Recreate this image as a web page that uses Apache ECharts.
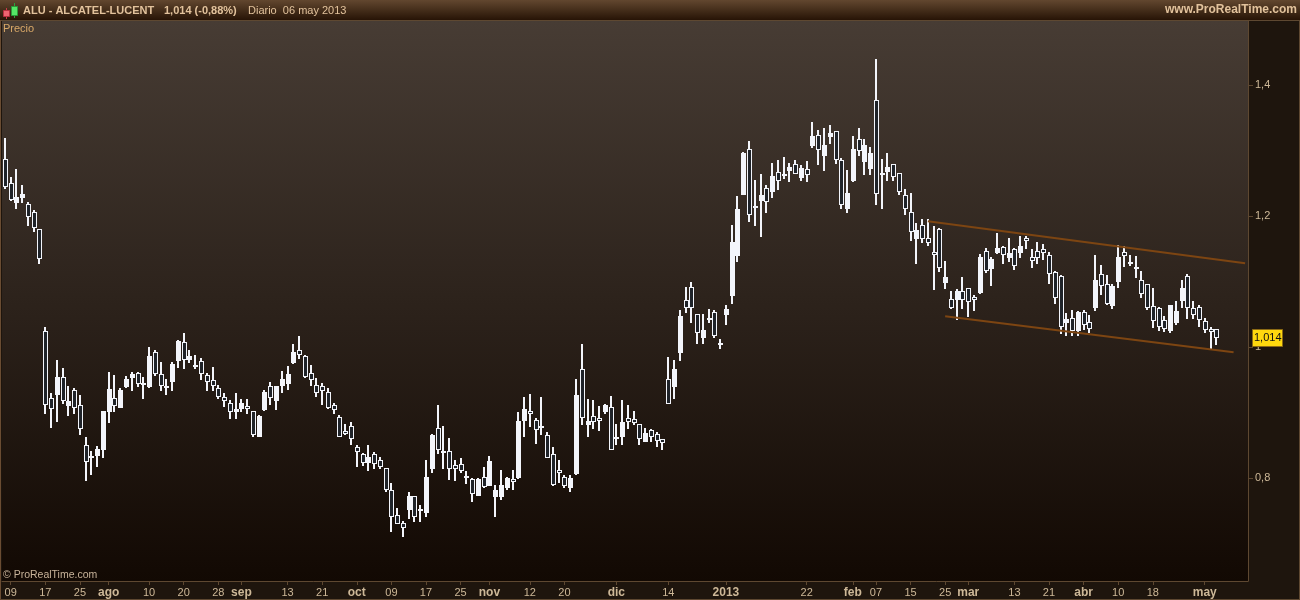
<!DOCTYPE html>
<html><head><meta charset="utf-8">
<style>html,body{margin:0;padding:0;background:#1e150d;overflow:hidden;width:1300px;height:600px}#c{width:1300px;height:600px}
</style>
<script src="https://cdn.jsdelivr.net/npm/echarts@6/dist/echarts.min.js"></script>
</head><body><div id="c"></div>
<script>
const categories = [
'07-06','07-09','07-10','07-11','07-12','07-13','07-16','07-17','07-18','07-19','07-20','07-23','07-24','07-25','07-26','07-27',
'07-30','07-31','08-01','08-02','08-03','08-06','08-07','08-08','08-09','08-10','08-13','08-14','08-15','08-16','08-17',
'08-20','08-21','08-22','08-23','08-24','08-27','08-28','08-29','08-30','08-31','09-03','09-04','09-05','09-06','09-07',
'09-10','09-11','09-12','09-13','09-14','09-17','09-18','09-19','09-20','09-21','09-24','09-25','09-26','09-27','09-28',
'10-01','10-02','10-03','10-04','10-05','10-08','10-09','10-10','10-11','10-12','10-15','10-16','10-17','10-18','10-19',
'10-22','10-23','10-24','10-25','10-26','10-29','10-30','10-31','11-01','11-02','11-05','11-06','11-07','11-08','11-09',
'11-12','11-13','11-14','11-15','11-16','11-19','11-20','11-21','11-22','11-23','11-26','11-27','11-28','11-29','11-30',
'12-03','12-04','12-05','12-06','12-07','12-10','12-11','12-12','12-13','12-14','12-17','12-18','12-19','12-20','12-21',
'12-26','12-27','12-28','12-31','01-02','01-03','01-04','01-07','01-08','01-09','01-10','01-11','01-14','01-15','01-16','01-17','01-18',
'01-21','01-22','01-23','01-24','01-25','01-28','01-29','01-30','01-31','02-01','02-04','02-05','02-06','02-07','02-08',
'02-11','02-12','02-13','02-14','02-15','02-18','02-19','02-20','02-21','02-22','02-25','02-26','02-27','02-28','03-01',
'03-04','03-05','03-06','03-07','03-08','03-11','03-12','03-13','03-14','03-15','03-18','03-19','03-20','03-21','03-22',
'03-25','03-26','03-27','03-28','04-02','04-03','04-04','04-05','04-08','04-09','04-10','04-11','04-12','04-15','04-16','04-17','04-18','04-19',
'04-22','04-23','04-24','04-25','04-26','04-29','04-30','05-02','05-03','05-06','05-07','05-08','05-09','05-10','05-13'];

const tickLabels = {'07-09':'09','07-17':'17','07-25':'25','08-01':'ago','08-10':'10','08-20':'20','08-28':'28','09-03':'sep','09-13':'13','09-21':'21','10-01':'oct','10-09':'09','10-17':'17','10-25':'25','11-01':'nov','11-12':'12','11-20':'20','12-03':'dic','12-14':'14','01-02':'2013','01-22':'22','02-01':'feb','02-07':'07','02-15':'15','02-25':'25','03-01':'mar','03-13':'13','03-21':'21','04-02':'abr','04-10':'10','04-18':'18','05-02':'may'};
const monthLabels = ['ago','sep','oct','nov','dic','2013','feb','mar','abr','may'];
const priceTicks = [0.8,1.0,1.2,1.4];

const opens = [1.287,1.250,1.220,1.228,1.219,1.206,1.180,1.024,.922,.926,
.954,.910,.934,.912,.851,.831,.834,.843,.900,.922,
.907,.939,.953,.960,.942,.939,.992,.958,.940,.947,
.979,1.007,.980,.972,.978,.957,.949,.938,.923,.914,
.901,.906,.910,.902,.862,.904,.941,.917,.941,.943,
.976,.996,.986,.961,.942,.940,.931,.911,.893,.872,
.880,.847,.837,.823,.836,.828,.815,.781,.743,.731,
.751,.772,.753,.746,.813,.876,.839,.841,.820,.821,
.801,.799,.773,.801,.788,.771,.771,.785,.798,.800,
.887,.902,.889,.880,.865,.836,.812,.802,.785,.806,
.966,.881,.894,.891,.901,.909,.860,.863,.891,.890,
.882,.855,.873,.867,.859,.951,.939,.991,1.071,1.091,
1.051,1.014,1.044,1.053,1.004,1.049,1.078,1.139,1.232,1.302,
1.213,1.223,1.242,1.237,1.267,1.264,1.268,1.280,1.258,1.271,
1.307,1.323,1.292,1.321,1.329,1.286,1.211,1.253,1.318,1.283,
1.272,1.377,1.263,1.267,1.279,1.265,1.232,1.206,1.165,1.186,
1.166,1.145,1.180,1.098,1.073,1.071,1.086,1.090,1.076,1.082,
1.146,1.119,1.143,1.153,1.136,1.149,1.143,1.166,1.137,1.146,
1.149,1.141,1.114,1.109,1.036,1.044,1.024,1.053,1.038,1.060,
1.111,1.096,1.063,1.099,1.145,1.129,1.119,1.102,1.096,1.062,
1.059,1.041,1.024,1.037,1.070,1.108,1.059,1.061,1.039,1.027,1.027];
const closes = [1.245,1.224,1.229,1.234,1.199,1.182,1.135,.911,.905,.954,
.917,.917,.907,.875,.824,.834,.844,.902,.936,.910,
.934,.951,.959,.944,.945,.986,.959,.940,.937,.974,
1.009,.980,.986,.969,.959,.946,.940,.924,.917,.900,
.906,.914,.905,.866,.895,.931,.922,.940,.951,.959,
.993,.988,.954,.950,.930,.933,.907,.904,.863,.867,
.860,.839,.823,.832,.821,.817,.781,.740,.730,.723,
.772,.740,.749,.802,.866,.842,.841,.813,.814,.810,
.803,.775,.798,.786,.826,.782,.789,.800,.794,.887,
.905,.897,.874,.876,.831,.790,.807,.788,.800,.927,
.892,.887,.886,.887,.911,.843,.863,.885,.886,.884,
.859,.869,.862,.856,.854,.913,.967,1.047,1.059,1.060,
1.021,1.026,1.041,1.017,1.006,1.058,1.160,1.211,1.296,1.202,
1.215,1.232,1.221,1.261,1.253,1.261,1.275,1.264,1.273,1.262,
1.322,1.301,1.308,1.326,1.286,1.217,1.235,1.302,1.299,1.308,
1.296,1.233,1.266,1.275,1.260,1.237,1.210,1.175,1.179,1.165,
1.159,1.141,1.120,1.107,1.059,1.085,1.071,1.069,1.071,1.137,
1.116,1.134,1.151,1.140,1.143,1.124,1.154,1.162,1.132,1.136,
1.144,1.111,1.075,1.030,1.043,1.025,1.053,1.034,1.027,1.103,
1.093,1.066,1.093,1.137,1.139,1.126,1.122,1.081,1.060,1.040,
1.031,1.028,1.064,1.055,1.090,1.059,1.049,1.041,1.026,1.023,1.014];
const lows = [1.241,1.223,1.211,1.220,1.185,1.176,1.127,.898,.877,.886,
.913,.894,.898,.866,.796,.804,.817,.830,.884,.901,
.907,.937,.933,.939,.920,.937,.955,.933,.927,.933,
.968,.967,.975,.967,.950,.933,.933,.921,.909,.890,
.890,.901,.898,.862,.862,.903,.911,.904,.930,.935,
.974,.982,.953,.941,.924,.911,.906,.898,.863,.865,
.851,.817,.819,.811,.814,.814,.779,.717,.730,.710,
.737,.733,.733,.741,.807,.836,.814,.797,.796,.807,
.791,.764,.773,.785,.788,.741,.767,.781,.781,.798,
.862,.878,.852,.866,.831,.788,.792,.784,.779,.804,
.881,.862,.875,.871,.897,.843,.851,.851,.875,.881,
.851,.855,.855,.848,.842,.913,.920,.978,1.052,1.037,
1.004,1.005,1.037,1.013,.997,1.034,1.066,1.130,1.232,1.191,
1.185,1.168,1.204,1.228,1.240,1.257,1.252,1.264,1.254,1.252,
1.304,1.278,1.268,1.310,1.280,1.211,1.205,1.252,1.292,1.263,
1.263,1.217,1.211,1.253,1.253,1.232,1.201,1.162,1.127,1.159,
1.154,1.087,1.114,1.088,1.058,1.041,1.058,1.046,1.055,1.081,
1.113,1.093,1.142,1.127,1.130,1.118,1.136,1.150,1.121,1.127,
1.133,1.096,1.066,1.020,1.017,1.017,1.017,1.026,1.021,1.055,
1.079,1.064,1.058,1.090,1.122,1.124,1.105,1.075,1.057,1.029,
1.024,1.023,1.021,1.034,1.060,1.043,1.043,1.031,1.021,.997,1.003];
const highs = [1.319,1.259,1.271,1.247,1.221,1.209,1.180,1.030,.929,.980,
.968,.940,.937,.927,.863,.841,.849,.902,.962,.957,
.937,.956,.962,.962,.954,1.000,.995,.977,.951,.977,
1.011,1.021,.995,.988,.983,.961,.969,.942,.929,.919,
.929,.921,.921,.902,.896,.934,.947,.940,.963,.971,
1.005,1.017,.987,.973,.953,.945,.937,.914,.896,.882,
.885,.850,.838,.850,.840,.832,.815,.792,.754,.734,
.779,.772,.759,.827,.867,.911,.879,.861,.827,.831,
.811,.800,.800,.817,.834,.789,.812,.802,.812,.901,
.924,.928,.892,.924,.870,.847,.827,.805,.805,.951,
1.005,.921,.919,.910,.913,.925,.882,.919,.911,.902,
.883,.876,.875,.870,.859,.985,.980,1.056,1.092,1.099,
1.051,1.050,1.058,1.056,1.012,1.064,1.186,1.230,1.298,1.314,
1.255,1.264,1.247,1.281,1.285,1.290,1.281,1.285,1.278,1.284,
1.344,1.331,1.334,1.339,1.329,1.288,1.270,1.322,1.334,1.318,
1.305,1.440,1.287,1.296,1.279,1.265,1.241,1.235,1.189,1.195,
1.195,1.185,1.182,1.131,1.085,1.088,1.107,1.090,1.079,1.142,
1.151,1.137,1.174,1.154,1.166,1.151,1.169,1.169,1.150,1.160,
1.157,1.145,1.116,1.110,1.052,1.056,1.055,1.056,1.049,1.140,
1.125,1.110,1.096,1.156,1.154,1.140,1.139,1.116,1.096,1.090,
1.061,1.047,1.064,1.070,1.102,1.111,1.070,1.064,1.044,1.031,1.028];

const upperChannel = [['02-20',1.192],['05-13',1.128]];
const lowerChannel = [['02-25',1.047],['05-09',0.992]];
const lastPrice = 1.014;

const BEAR='#1f2329', BULL='#f3f5fb', TXT='#e2c29c', AXT='#cdb898', LINE='#5e4831', CHAN='#7d4512', FONT='"Liberation Sans",Arial,sans-serif';
const rows = opens.map((o,i)=>[i,o,closes[i],lows[i],highs[i]]);
const isTick = (i,v)=>v in tickLabels;

const renderCandle = (p,api)=>{
  const i=api.value(0), o=api.value(1), c=api.value(2);
  const y=v=>Math.round(api.coord([i,v])[1]);
  const left=Math.round(api.coord([i,o])[0]-1);
  const top=y(Math.max(o,c)), bot=Math.max(y(Math.min(o,c)),top+2), hi=y(api.value(4)), lo=y(api.value(3));
  const kids=[
    {type:'rect',shape:{x:left,y:hi,width:2,height:lo-hi},style:{fill:BULL}},
    {type:'rect',shape:{x:left-1,y:top,width:5,height:bot-top},style:{fill:BULL}}
  ];
  if(c<o && bot-top>2) kids.push({type:'rect',shape:{x:left,y:top+1,width:3,height:bot-top-2},style:{fill:BEAR}});
  return {type:'group',children:kids};
};

const chart = echarts.init(document.getElementById('c'),null,{renderer:'canvas'});
const txt=(x,y,s,o)=>({type:'text',left:x,top:y,z:100,silent:true,style:Object.assign({text:s,fill:TXT,font:'bold 11px '+FONT},o||{})});
chart.setOption({
  animation:false,
  backgroundColor:'#1e150d',
  grid:{left:2,top:21,width:1246,height:560,show:true,borderWidth:0,
    backgroundColor:new echarts.graphic.LinearGradient(0,0,0,1,[{offset:0,color:'#473c34'},{offset:1,color:'#120903'}])},
  xAxis:{type:'category',data:categories,boundaryGap:true,
    axisLine:{show:true,lineStyle:{color:LINE}},
    axisTick:{show:true,alignWithLabel:true,interval:isTick,length:4,lineStyle:{color:LINE}},
    axisLabel:{interval:isTick,margin:6,color:AXT,fontFamily:FONT,fontSize:11,
      formatter:v=>{const t=tickLabels[v];if(t==null)return '';return monthLabels.includes(t)?'{m|'+t+'}':t;},
      rich:{m:{fontWeight:'bold',fontSize:12,color:AXT,fontFamily:FONT}}},
    splitLine:{show:false}},
  yAxis:{type:'value',position:'right',min:0.6427,max:1.4977,scale:true,
    axisLine:{show:true,onZero:false,lineStyle:{color:LINE}},
    axisTick:{show:true,length:5,customValues:priceTicks,lineStyle:{color:LINE}},
    axisLabel:{customValues:priceTicks,margin:7,color:AXT,fontFamily:FONT,fontSize:11,formatter:v=>String(+v.toFixed(1)).replace('.',',')},
    splitLine:{show:false}},
  series:[
    {type:'custom',name:'Precio',data:rows,z:3,silent:true,encode:{x:0,y:[1,2,3,4]},renderItem:renderCandle},
    {type:'line',name:'Canal sup',data:upperChannel,z:4,symbol:'none',silent:true,lineStyle:{color:CHAN,width:2}},
    {type:'line',name:'Canal inf',data:lowerChannel,z:4,symbol:'none',silent:true,lineStyle:{color:CHAN,width:2}}
  ],
  graphic:[
    {type:'rect',z:90,silent:true,shape:{x:0,y:0,width:1300,height:20},
      style:{fill:new echarts.graphic.LinearGradient(0,0,0,1,[{offset:0,color:'#62472f'},{offset:1,color:'#271406'}])}},
    {type:'rect',z:90,silent:true,shape:{x:0,y:20,width:1300,height:1},style:{fill:'#5e4831'}},
    {type:'rect',z:90,silent:true,shape:{x:0,y:20,width:1,height:580},style:{fill:'#6a4c32'}},
    {type:'rect',z:90,silent:true,shape:{x:1299,y:20,width:1,height:580},style:{fill:'#5e4831'}},
    {type:'rect',z:90,silent:true,shape:{x:0,y:599,width:1300,height:1},style:{fill:'#5e4831'}},
    {type:'rect',z:91,silent:true,shape:{x:6,y:8,width:1,height:11},style:{fill:'#c83a48'}},
    {type:'rect',z:92,silent:true,shape:{x:3.5,y:10.5,width:6,height:6},style:{fill:'#ee6470',stroke:'#b83040',lineWidth:1}},
    {type:'rect',z:91,silent:true,shape:{x:14,y:3,width:1,height:15},style:{fill:'#2aa53c'}},
    {type:'rect',z:92,silent:true,shape:{x:11.5,y:6.5,width:6,height:9},style:{fill:'#55e666',stroke:'#2a9a3a',lineWidth:1}},
    txt(23,5,'ALU - ALCATEL-LUCENT'),
    txt(164,5,'1,014 (-0,88%)'),
    txt(248,5,'Diario  06 may 2013',{font:'11px '+FONT}),
    {type:'text',right:3,top:4,z:100,silent:true,style:{text:'www.ProRealTime.com',fill:TXT,font:'bold 12px '+FONT}},
    txt(3,23,'Precio',{fill:'#d8a868',font:'11px '+FONT}),
    txt(3,570,'© ProRealTime.com',{fill:'#c8b39a',font:'10.5px '+FONT})
  ]
});
const ly=Math.round(chart.convertToPixel({yAxisIndex:0},lastPrice));
chart.setOption({graphic:[
  {type:'rect',id:'pb',z:95,silent:true,shape:{x:1252.5,y:ly-8.5,width:30,height:17},style:{fill:'#ffd80e',stroke:'#8c6a14',lineWidth:1}},
  {type:'text',id:'pt',z:96,silent:true,left:1254,top:ly-6,style:{text:'1,014',fill:'#111',font:'11px '+FONT}}
]});
</script></body></html>
